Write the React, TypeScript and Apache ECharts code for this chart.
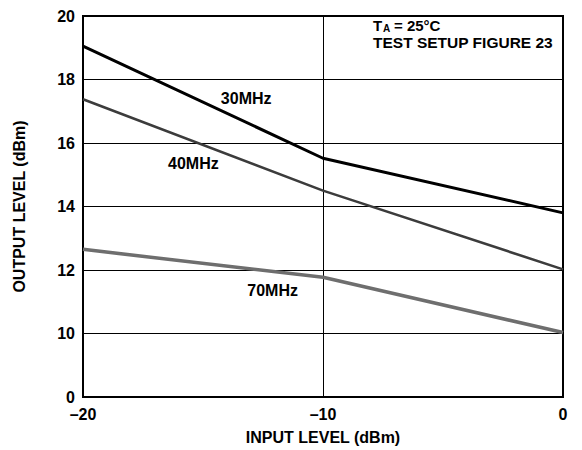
import React, { useEffect, useRef } from "react";
import * as echarts from "echarts";

const inputLevel = [-20, -10, 0];
const out30MHz = [19.05, 15.52, 13.8];
const out40MHz = [17.38, 14.5, 12.02];
const out70MHz = [12.65, 11.77, 10.03];
const seriesNames = ["30MHz", "40MHz", "70MHz"];
// label anchor points in data space [inputLevel, outputLevel]
const labelAt: [number, number][] = [
  [-13.2, 17.4],
  [-15.4, 15.35],
  [-12.1, 11.35],
];
const yTicks = { min: 8, max: 20, interval: 2 };
const xTicks = { min: -20, max: 0, interval: 10 };

const FONT = "'Liberation Sans', Arial, Helvetica, sans-serif";

export default function App() {
  const ref = useRef<HTMLDivElement>(null);
  useEffect(() => {
    if (!ref.current) return;
    const chart = echarts.init(ref.current, undefined, { renderer: "svg" });
    const colors = ["#000000", "#3c3c3c", "#6e6e6e"];
    const widths = [3, 2.6, 3.5];
    const values = [out30MHz, out40MHz, out70MHz];
    const txt = { fontFamily: FONT, fontWeight: "bold" as const, fontSize: 16, color: "#000" };
    chart.setOption({
      animation: false,
      backgroundColor: "#fff",
      grid: {
        left: 83,
        right: 19,
        top: 16,
        bottom: 51,
        show: true,
        borderColor: "#000",
        borderWidth: 2,
        backgroundColor: "transparent",
      },
      xAxis: {
        type: "value",
        min: xTicks.min,
        max: xTicks.max,
        interval: xTicks.interval,
        name: "INPUT LEVEL (dBm)",
        nameLocation: "middle",
        nameGap: 32,
        nameTextStyle: { ...txt },
        axisLine: { show: true, lineStyle: { color: "#000", width: 2 } },
        axisTick: { show: false },
        splitLine: { show: true, lineStyle: { color: "#000", width: 1 } },
        axisLabel: {
          ...txt,
          margin: 9,
          formatter: (v: number) => (v < 0 ? "\u2013" + Math.abs(v) : String(v)),
        },
      },
      yAxis: {
        type: "value",
        min: yTicks.min,
        max: yTicks.max,
        interval: yTicks.interval,
        name: "OUTPUT LEVEL (dBm)",
        nameLocation: "middle",
        nameGap: 56,
        nameTextStyle: { ...txt },
        axisLine: { show: true, lineStyle: { color: "#000", width: 2 } },
        axisTick: { show: false },
        splitLine: { show: true, lineStyle: { color: "#000", width: 1 } },
        axisLabel: {
          ...txt,
          margin: 8,
          formatter: (v: number) => (v === yTicks.min ? "0" : String(v)),
        },
      },
      series: values.map((vals, i) => ({
        type: "line",
        name: seriesNames[i],
        data: vals.map((v, j) => [inputLevel[j], v]),
        symbol: "none",
        lineStyle: { color: colors[i], width: widths[i] },
        z: 5 - i,
        markPoint: {
          symbol: "circle",
          symbolSize: 0,
          silent: true,
          label: {
            show: true,
            position: "inside",
            formatter: seriesNames[i],
            ...txt,
          },
          data: [{ coord: labelAt[i] }],
        },
      })),
      graphic: [
        {
          type: "text",
          left: 373,
          top: 18,
          style: { text: "T", font: `bold 15px ${FONT}`, fill: "#000" },
        },
        {
          type: "text",
          left: 383,
          top: 23,
          style: { text: "A", font: `bold 10px ${FONT}`, fill: "#000" },
        },
        {
          type: "text",
          left: 394,
          top: 18,
          style: { text: "= 25°C", font: `bold 15px ${FONT}`, fill: "#000" },
        },
        {
          type: "text",
          left: 373,
          top: 34,
          style: {
            text: "TEST SETUP FIGURE 23",
            font: `bold 15.5px ${FONT}`,
            fill: "#000",
          },
        },
      ],
    });
    return () => chart.dispose();
  }, []);
  return (
    <div
      ref={ref}
      style={{ position: "absolute", left: 0, top: 0, width: 582, height: 450 }}
    />
  );
}
